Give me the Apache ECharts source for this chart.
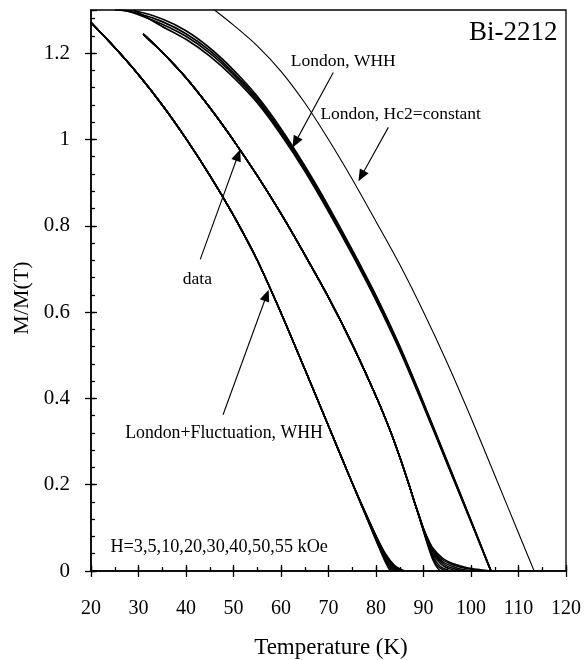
<!DOCTYPE html>
<html><head><meta charset="utf-8">
<script src="https://cdn.jsdelivr.net/npm/echarts/dist/echarts.min.js"></script>
<style>html,body{margin:0;padding:0;background:#fff}#c{width:584px;height:660px}</style>
</head><body><div id="c"></div>
<script>
// ---------- tick values ----------
const xTicks = [20, 30, 40, 50, 60, 70, 80, 90, 100, 110, 120];
const yTicks = [0, 0.2, 0.4, 0.6, 0.8, 1, 1.2];
const yTop = 1.3;

// ---------- fields (kOe) ----------
const fields = ['3', '5', '10', '20', '30', '40', '50', '55'];

// ---------- London + Fluctuation, WHH (shared body + per-field tails) ----------
const fluctBody = [[20,1.271],[25,1.213],[30,1.15],[35,1.08],[40,1.002],[45,0.917],[50,0.824],[55,0.72],[60,0.598],[65,0.468],[70,0.336],[74,0.23]];
const fluctTails = [
  [[76,0.177],[78,0.124],[80,0.071],[82,0.02],[83,0]],
  [[76,0.177],[78,0.125],[80,0.073],[82,0.024],[83.4,0]],
  [[76,0.178],[78,0.126],[80,0.075],[82,0.027],[83.8,0]],
  [[76,0.178],[78,0.127],[80,0.077],[82,0.03],[84.2,0]],
  [[76,0.178],[78,0.128],[80,0.078],[82,0.033],[84,0.006],[84.6,0]],
  [[76,0.179],[78,0.128],[80,0.08],[82,0.035],[84,0.008],[85.1,0]],
  [[76,0.179],[78,0.129],[80,0.081],[82,0.038],[84,0.01],[85.6,0]],
  [[76,0.179],[78,0.13],[80,0.082],[82,0.04],[84,0.012],[86,0]]
];

// ---------- data (shared body + per-field tails) ----------
const dataBody = [[31,1.244],[35,1.202],[40,1.143],[45,1.074],[50,0.998],[55,0.916],[60,0.828],[65,0.733],[70,0.634],[75,0.525],[80,0.405],[83,0.325],[85,0.264],[87,0.198],[88,0.163]];
const dataTails = [
  [[89,0.128],[90,0.092],[91,0.056],[92,0.025],[93,0.006],[93.6,0]],
  [[89,0.128],[90,0.093],[91,0.059],[92,0.03],[93,0.011],[94.6,0]],
  [[89,0.129],[90,0.094],[91,0.062],[92,0.035],[93,0.017],[94,0.007],[95.6,0]],
  [[89,0.129],[90,0.095],[91,0.065],[92,0.04],[94,0.013],[96,0.003],[97,0]],
  [[89,0.13],[90,0.096],[91,0.067],[92,0.044],[94,0.018],[96,0.007],[98.5,0]],
  [[89,0.13],[90,0.097],[91,0.069],[92,0.047],[94,0.022],[96,0.011],[98,0.004],[100.5,0]],
  [[89,0.131],[90,0.098],[91,0.071],[92,0.05],[94,0.026],[96,0.015],[98,0.008],[100,0.004],[102.5,0]],
  [[89,0.131],[90,0.099],[91,0.073],[92,0.053],[94,0.03],[96,0.018],[98,0.011],[100,0.006],[102,0.003],[104.5,0]]
];

// ---------- London, WHH (bundle of field curves) ----------
const whhCurves = [
  [[25,1.30],[30,1.296],[35,1.279],[40,1.252],[45,1.212],[50,1.161],[55,1.10],[60,1.025],[65,0.939],[70,0.845],[75,0.744],[80,0.638],[85,0.521],[90,0.39],[95,0.254],[100,0.117],[104.2,0]],
  [[26,1.30],[30,1.292],[35,1.273],[40,1.245],[45,1.206],[50,1.155],[55,1.095],[60,1.02],[65,0.935],[70,0.841],[75,0.741],[80,0.635],[85,0.518],[90,0.388],[95,0.252],[100,0.116],[104.2,0]],
  [[27,1.30],[30,1.289],[35,1.267],[40,1.239],[45,1.20],[50,1.15],[55,1.09],[60,1.016],[65,0.931],[70,0.837],[75,0.737],[80,0.631],[85,0.515],[90,0.385],[95,0.25],[100,0.115],[104.2,0]],
  [[29,1.30],[35,1.262],[40,1.232],[45,1.193],[50,1.144],[55,1.085],[60,1.011],[65,0.927],[70,0.833],[75,0.733],[80,0.627],[85,0.511],[90,0.382],[95,0.248],[100,0.114],[104.2,0]]
];

// ---------- London, Hc2 = constant ----------
const hc2Const = [[46,1.30],[50,1.265],[55,1.217],[60,1.158],[65,1.085],[70,1.0],[75,0.908],[80,0.81],[85,0.71],[90,0.60],[95,0.482],[100,0.355],[105,0.222],[110,0.088],[113.3,0]];

// ---------- annotations (data coordinates) ----------
const labels = [
  {text: 'Bi-2212', at: [118.2, 1.248], align: 'right', size: 27},
  {text: 'London, WHH', at: [73.1, 1.18], align: 'center', size: 17.5},
  {text: 'London, Hc2=constant', at: [68.3, 1.058], align: 'left', size: 17.5},
  {text: 'data', at: [42.4, 0.675], align: 'center', size: 17.5},
  {text: 'London+Fluctuation, WHH', at: [27.2, 0.318], align: 'left', size: 17.8},
  {text: 'H=3,5,10,20,30,40,50,55 kOe', at: [24.1, 0.054], align: 'left', size: 18.2}
];
const arrows = [
  [[71.0, 1.155], [62.4, 0.981]],
  [[82.6, 1.028], [76.3, 0.903]],
  [[43.0, 0.722], [51.4, 0.977]],
  [[47.8, 0.362], [57.4, 0.652]]
];

const FONT = '"Liberation Serif", "Times New Roman", serif';
const chart = echarts.init(document.getElementById('c'), null, {renderer: 'canvas'});

function mk(name, data, width) {
  return {type: 'line', name: name, data: data, xAxisIndex: 0, yAxisIndex: 0,
    symbol: 'none', showSymbol: false, smooth: 0.3, clip: true, silent: true,
    lineStyle: {color: '#000', width: width}, animation: false};
}
const series = [];
fields.forEach((h, i) => series.push(mk('London+Fluctuation, WHH ' + h + ' kOe', fluctBody.concat(fluctTails[i]), 1.5)));
fields.forEach((h, i) => series.push(mk('data ' + h + ' kOe', dataBody.concat(dataTails[i]), 1.5)));
whhCurves.forEach((c, i) => series.push(mk('London, WHH ' + i, c, 1.7)));
series.push(mk('London, Hc2=constant', hc2Const, 1.1));

const xMin = xTicks[0], xMax = xTicks[xTicks.length - 1], xInt = xTicks[1] - xTicks[0];
const yMin = yTicks[0], yInt = yTicks[1] - yTicks[0];
const tickLine = {color: '#000', width: 1.3};
const axisBase = {type: 'value', splitLine: {show: false}, axisLine: {show: false, onZero: false}, axisLabel: {show: false}};

const option = {
  backgroundColor: '#fff',
  animation: false,
  grid: {left: 91, right: 17, top: 10, bottom: 89, show: true, borderColor: '#000', borderWidth: 1.3, backgroundColor: 'transparent'},
  xAxis: [
    Object.assign({}, axisBase, {min: xMin, max: xMax, interval: xInt, position: 'bottom',
      axisLine: {show: true, onZero: false, lineStyle: {color: '#000', width: 1.6}},
      axisTick: {show: true, inside: false, length: 6, lineStyle: tickLine},
      axisLabel: {show: true, color: '#000', fontFamily: FONT, fontSize: 20, margin: 28}}),
    Object.assign({}, axisBase, {min: xMin, max: xMax, interval: xInt, position: 'bottom',
      axisTick: {show: true, inside: true, length: 6, lineStyle: tickLine}}),
    Object.assign({}, axisBase, {min: xMin, max: xMax, interval: xInt / 2, position: 'bottom',
      axisTick: {show: true, inside: true, length: 4, lineStyle: tickLine}})
  ],
  yAxis: [
    Object.assign({}, axisBase, {min: yMin, max: yTop, interval: yInt, position: 'left',
      axisLine: {show: true, onZero: false, lineStyle: {color: '#000', width: 1.6}},
      axisTick: {show: true, inside: false, length: 6, lineStyle: tickLine},
      axisLabel: {show: true, showMaxLabel: false, color: '#000', fontFamily: FONT, fontSize: 21, margin: 21}}),
    Object.assign({}, axisBase, {min: yMin, max: yTop, interval: yInt, position: 'left',
      axisTick: {show: true, inside: true, length: 6, lineStyle: tickLine}}),
    Object.assign({}, axisBase, {min: yMin, max: yTop, interval: yInt / 5, position: 'left',
      axisTick: {show: true, inside: true, length: 4, lineStyle: tickLine}})
  ],
  series: series
};
chart.setOption(option);

// ---------- graphics: titles, labels, arrows ----------
const g = [];
g.push({type: 'text', x: 331, y: 648, style: {text: 'Temperature (K)', x: 0, y: 0, align: 'center', verticalAlign: 'middle', font: '23px ' + FONT, fill: '#000'}});
g.push({type: 'text', x: 22, y: 298, rotation: Math.PI / 2, style: {text: 'M/M(T)', x: 0, y: 0, align: 'center', verticalAlign: 'middle', font: '22px ' + FONT, fill: '#000'}});
labels.forEach(l => {
  const p = chart.convertToPixel({gridIndex: 0}, l.at);
  g.push({type: 'text', x: p[0], y: p[1], style: {text: l.text, x: 0, y: 0, align: l.align, verticalAlign: 'middle', font: l.size + 'px ' + FONT, fill: '#000'}});
});
arrows.forEach(a => {
  const t = chart.convertToPixel({gridIndex: 0}, a[0]);
  const p = chart.convertToPixel({gridIndex: 0}, a[1]);
  const dx = p[0] - t[0], dy = p[1] - t[1], L = Math.hypot(dx, dy);
  const ux = dx / L, uy = dy / L, nx = -uy, ny = ux;
  const hl = 12, hw = 5;
  const bx = p[0] - ux * hl, by = p[1] - uy * hl;
  g.push({type: 'line', shape: {x1: t[0], y1: t[1], x2: bx + ux * 2, y2: by + uy * 2}, style: {stroke: '#000', lineWidth: 1.1}});
  g.push({type: 'polygon', shape: {points: [[p[0], p[1]], [bx + nx * hw, by + ny * hw], [bx - nx * hw, by - ny * hw]]}, style: {fill: '#000'}});
});
chart.setOption({graphic: g});
</script>
</body></html>
